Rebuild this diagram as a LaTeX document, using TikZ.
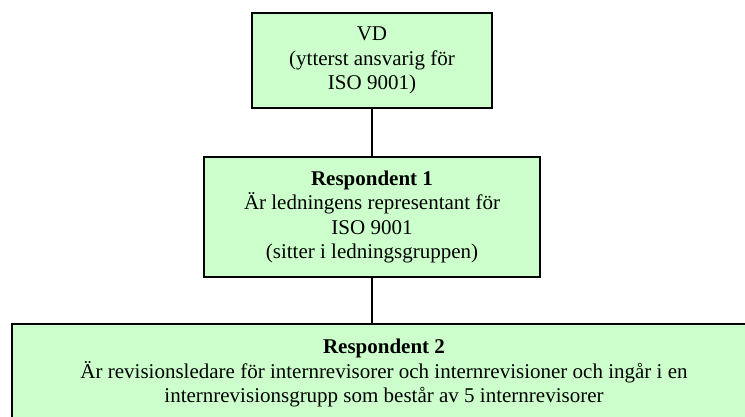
\documentclass[tikz,border=0pt]{standalone}
\usepackage{fontspec}
\setmainfont{Liberation Serif}
\definecolor{boxgreen}{HTML}{CCFFCC}
\begin{document}
\begin{tikzpicture}[x=1pt,y=-1pt,
  orgbox/.style={draw=black, line width=2pt, fill=boxgreen, rectangle,
    align=center, inner sep=0pt,
    font=\fontsize{21}{24.5}\selectfont},
  link/.style={draw=black, line width=2pt}]
\useasboundingbox (0,0) rectangle (745,416);
\clip (0,0) rectangle (745,416);
\node[orgbox, minimum width=240pt, minimum height=95pt] (vd) at (372,60.5)
  {VD\\(ytterst ansvarig för\\ISO 9001)};
\node[orgbox, minimum width=336pt, minimum height=120pt] (r1) at (372,217)
  {\textbf{Respondent 1}\\Är ledningens representant för\\ISO 9001\\(sitter i ledningsgruppen)};
\node[orgbox, minimum width=744pt, minimum height=98pt] (r2) at (384,373)
  {\textbf{Respondent 2}\\Är revisionsledare för internrevisorer och internrevisioner och ingår i en\\internrevisionsgrupp som består av 5 internrevisorer};
\draw[link] (vd.south) -- (r1.north);
\draw[link] (r1.south) -- (r1.south |- r2.north);
\end{tikzpicture}
\end{document}
